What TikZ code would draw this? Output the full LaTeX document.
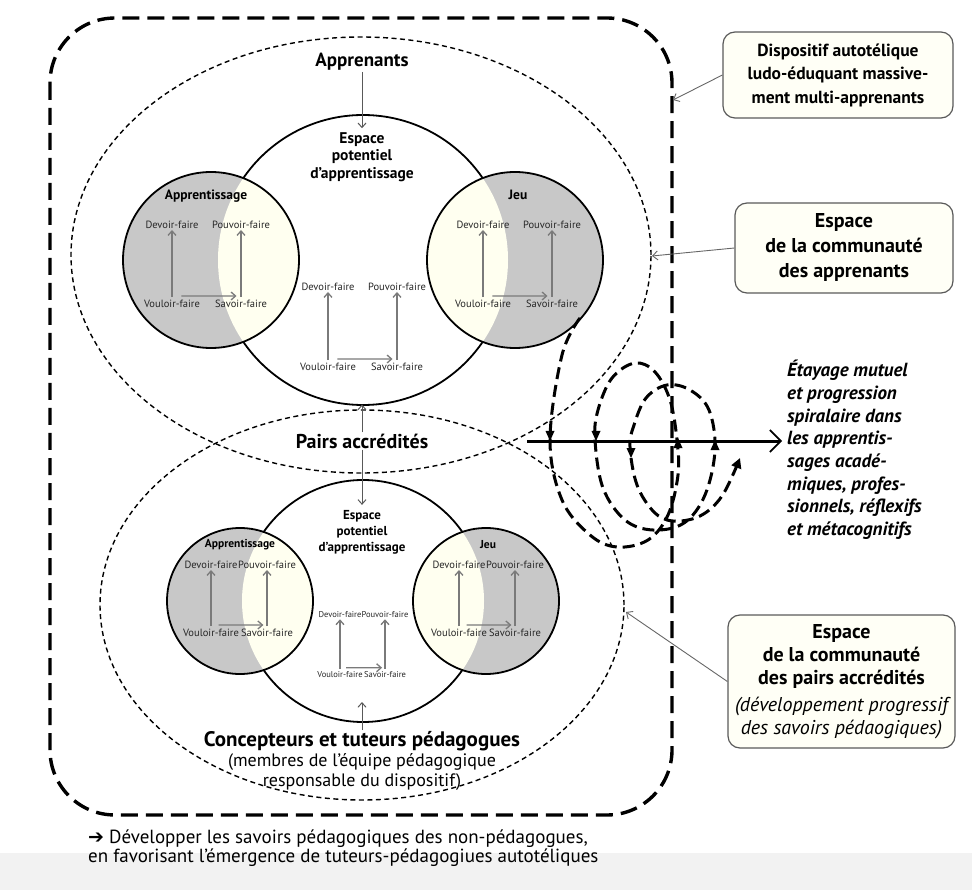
\documentclass[tikz,border=0pt]{standalone}
\usepackage{fontspec}
\setmainfont{PT Sans}
\newfontfamily\dejavu{DejaVu Sans}
\usetikzlibrary{arrows.meta,calc}
\definecolor{shadegray}{HTML}{C8C8C8}
\definecolor{ivorycol}{HTML}{FFFFF0}
\definecolor{arrgray}{HTML}{7A7A7A}
\definecolor{boxline}{HTML}{5A5A5A}
\definecolor{boxfill}{HTML}{FFFFF6}
\newcommand\tetrad[6]{%
  \node[#6] (#1d) at (#2-#4,#3-#5) {Devoir-faire};
  \node[#6] (#1p) at (#2+#4,#3-#5) {Pouvoir-faire};
  \node[#6] (#1v) at (#2-#4,#3+#5) {Vouloir-faire};
  \node[#6] (#1s) at (#2+#4,#3+#5) {Savoir-faire};
  \draw[garr] ($(#1v.north)+(0,-2)$) -- (#1v.north |- #1d.south);
  \draw[garr] ($(#1s.north)+(0,-2)$) -- (#1s.north |- #1p.south);
  \draw[garr] ($(#1v.north)+(#4*0.27,-3)$) -- ($(#1s.north)+(-#4*0.13,-3)$);
}
\newcommand\tdown[2]{\fill (#1,#2) -- ++(-4.5,-10) -- ++(9,0) -- cycle;}
\newcommand\tup[2]{\fill (#1,#2) -- ++(-4.5,10) -- ++(9,0) -- cycle;}
\begin{document}
\begin{tikzpicture}[x=1pt,y=-1pt,
  outerdash/.style={line width=3.4pt, dash pattern=on 17pt off 8pt},
  dotell/.style={line width=1.4pt, dash pattern=on 5pt off 3.5pt},
  circ/.style={line width=1.8pt},
  lab/.style={font=\fontsize{10.5}{12}\selectfont, inner sep=1pt, text=black!85},
  tinylab/.style={font=\fontsize{8.5}{10}\selectfont, inner sep=1pt, text=black!85},
  garr/.style={draw=arrgray, line width=1.3pt, -{Straight Barb[length=4.5pt,width=8pt]}},
  thinarr/.style={draw=black!65, line width=1pt, -{Straight Barb[length=4.5pt,width=8pt]}},
  conn/.style={draw=black!60, line width=0.9pt, -{Straight Barb[length=5pt,width=9pt]}},
  sidebox/.style={draw=boxline, line width=1.2pt, fill=boxfill, rounded corners=12pt, align=center, inner sep=0pt},
  spiralline/.style={line width=3pt, dash pattern=on 12pt off 6pt},
]
\useasboundingbox (0,0) rectangle (972,890);
\fill[black!5] (0,853) rectangle (972,890);

% dotted ellipses and outer frame
\draw[dotell] (361,255) ellipse [x radius=290pt, y radius=218pt];
\draw[dotell] (362,605) ellipse [x radius=262pt, y radius=195pt];
\draw[outerdash, rounded corners=65pt] (50,18) rectangle (672,815);

% ===== upper group =====
\draw[circ, fill=white] (363,260) circle[radius=145pt];
\foreach \cx in {211,515}{
  \fill[shadegray] (\cx,260) circle[radius=88pt];
  \begin{scope}
    \clip (\cx,260) circle[radius=88pt];
    \fill[ivorycol] (363,260) circle[radius=145pt];
  \end{scope}
  \draw[circ] (\cx,260) circle[radius=88pt];
}
\node[font=\bfseries\fontsize{13.5}{16}\selectfont] (app1) at (206,196) {Apprentissage};
\node[font=\bfseries\fontsize{13.5}{16}\selectfont] (jeu1) at (518,195) {Jeu};
\node[align=center, font=\bfseries\fontsize{15.5}{17.5}\selectfont, inner sep=1pt] (esp1) at (362,157) {Espace\\potentiel\\d’apprentissage};
\tetrad{ul}{206.5}{264.5}{34.5}{39.5}{lab}
\tetrad{ur}{517.5}{264.5}{34.5}{39.5}{lab}
\tetrad{uc}{362.5}{327}{34.5}{40}{lab}

% ===== lower group =====
\draw[circ, fill=white] (363,601) circle[radius=121pt];
\foreach \cx in {240,486}{
  \fill[shadegray] (\cx,601) circle[radius=73pt];
  \begin{scope}
    \clip (\cx,601) circle[radius=73pt];
    \fill[ivorycol] (363,601) circle[radius=121pt];
  \end{scope}
  \draw[circ] (\cx,601) circle[radius=73pt];
}
\node[font=\bfseries\fontsize{11.5}{14}\selectfont] (app2) at (240,545) {Apprentissage};
\node[font=\bfseries\fontsize{11.5}{14}\selectfont] (jeu2) at (488,545) {Jeu};
\node[align=center, font=\bfseries\fontsize{13}{16}\selectfont, inner sep=1pt] (esp2) at (362,532) {Espace\\potentiel\\d’apprentissage};
\tetrad{ll}{239}{599}{28}{34}{lab}
\tetrad{lr}{487}{599}{28}{34}{lab}
\tetrad{lc}{362.5}{645}{22.5}{30}{tinylab}

% ===== titles =====
\node[font=\bfseries\fontsize{19}{22}\selectfont, inner sep=1pt] (apprenants) at (362,62) {Apprenants};
\node[font=\bfseries\fontsize{20}{22}\selectfont, inner sep=1pt] (pairs) at (362,441) {Pairs accrédités};
\node[font=\bfseries\fontsize{21}{24}\selectfont, inner sep=1pt] (concept) at (362,741) {Concepteurs et tuteurs pédagogues};
\node[align=center, font=\fontsize{18}{20}\selectfont, inner sep=0pt] (membres) at (362,772) {(membres de l’équipe pédagogique\\responsable du dispositif)};
\draw[thinarr] (apprenants.south) -- ($(esp1.north)+(0,-3)$);
\draw[thinarr] (pairs.north) -- ++(0,-28);
\draw[thinarr] (pairs.south) -- ($(esp2.north)+(0,-4)$);
\draw[thinarr] (concept.north) -- ++(0,-28);

% ===== spiral =====
\draw[spiralline, -{Triangle[length=10pt,width=10pt]}] plot[smooth, tension=0.6] coordinates {(580,318) (562,355) (550,440) (562,500) (590,535) (617,547) (648,540) (668,515) (678,475) (677,440) (670,400) (655,372) (635,363) (612,378) (598,410) (595,440) (603,488) (625,520) (653,530) (684,523) (705,495) (715,450) (709,410) (690,390) (667,385) (646,398) (634,425) (630,447) (637,485) (654,512) (673,521) (700,516) (722,496) (740,458)};
\tdown{550}{441}
\tdown{596}{441}
\tdown{631}{458}
\tup{678}{438}
\tup{715}{440}
\coordinate (axs) at (527,441);
\coordinate (axe) at (782,441);
\draw[line width=3pt, -{Straight Barb[length=11pt,width=22pt,line width=1.6pt]}] (axs) -- (axe);
\node[anchor=north west, align=left, font=\bfseries\itshape\fontsize{19}{22.7}\selectfont, inner sep=0pt] (etayage) at (787,360) {Étayage mutuel\\et progression\\spiralaire dans\\les apprentis-\\sages acadé-\\miques, profes-\\sionnels, réflexifs\\et métacognitifs};

% ===== side boxes =====
\node[sidebox, minimum width=230pt, minimum height=86pt, font=\bfseries\fontsize{17.5}{23.5}\selectfont] (box1) at (838,75) {Dispositif autotélique\\ludo-éduquant massive-\\ment multi-apprenants};
\node[sidebox, minimum width=218pt, minimum height=90pt, font=\bfseries\fontsize{20}{25}\selectfont] (box2) at (844,248) {Espace\\de la communauté\\des apprenants};
\node[sidebox, minimum width=227pt, minimum height=133pt, font=\bfseries\fontsize{20}{23}\selectfont] (box3) at (841.5,681.5) {Espace\\de la communauté\\des pairs accrédités\\[4pt]\mdseries\itshape (développement progressif\\\mdseries\itshape des savoirs pédaogiques)};
\coordinate (t1) at (673,100);
\coordinate (t2) at (652,256);
\coordinate (t3) at (626,612);
\draw[conn] (box1.west) -- (t1);
\draw[conn] (box2.west) -- (t2);
\draw[conn] (box3.west) -- (t3);

% ===== bottom text =====
\node[anchor=north west, align=left, inner sep=0pt] (bottomtext) at (88,830) {\fontsize{19}{22.5}\selectfont{\dejavu\bfseries ➔} Développer les savoirs pédagogiques des non-pédagogues,\\\fontsize{19}{22.5}\selectfont en favorisant l’émergence de tuteurs-pédagogiues autotéliques};
\end{tikzpicture}
\end{document}
